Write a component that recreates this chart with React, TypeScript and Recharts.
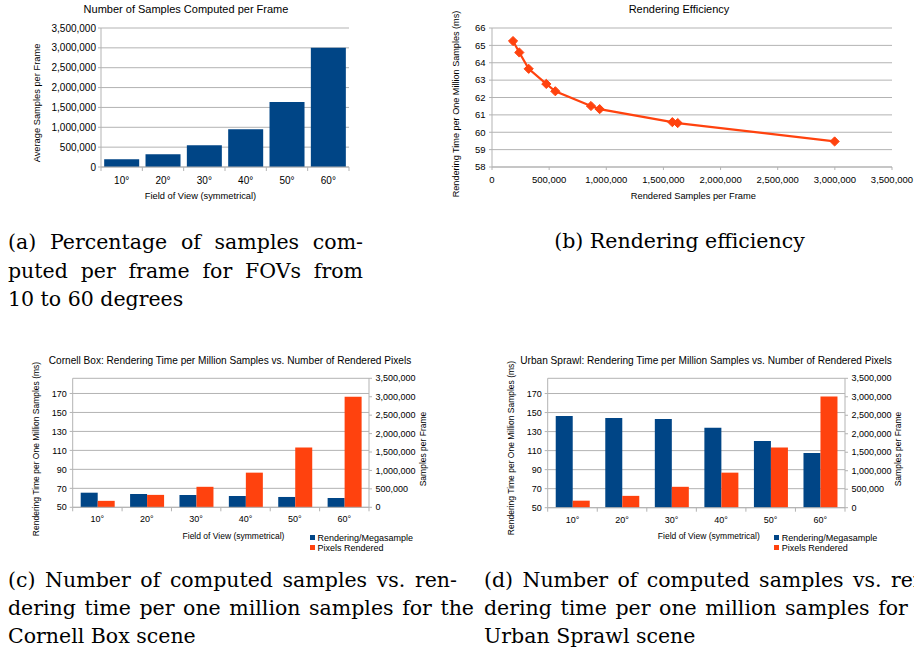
import React from 'react';
import {
  BarChart, Bar, LineChart, Line, XAxis, YAxis, CartesianGrid, Legend, ReferenceArea,
} from 'recharts';

// ---------- data ----------
const fovLabels = ['10°', '20°', '30°', '40°', '50°', '60°'];
const samplesPerFrame = [192000, 320000, 548000, 950000, 1635000, 3000000];

const effSamples = [184000, 239000, 321000, 475000, 554000, 866000, 942000, 1578000, 1625000, 2998000];
const effTime = [65.25, 64.59, 63.65, 62.78, 62.36, 61.51, 61.33, 60.58, 60.53, 59.47];

const cornellTime = [65.4, 64.0, 63.0, 61.9, 60.9, 59.8];
const cornellPixels = [175000, 337000, 556000, 940000, 1622000, 3000000];

const urbanTime = [146.5, 144.4, 143.3, 133.9, 120.2, 107.5];
const urbanPixels = [190000, 320000, 565000, 948000, 1631000, 3005000];

const sampleTicks = [0, 500000, 1000000, 1500000, 2000000, 2500000, 3000000, 3500000];
const effTimeTicks = [58, 59, 60, 61, 62, 63, 64, 65, 66];
const timeTicks = [50, 70, 90, 110, 130, 150, 170];
const legendOrder = ['time', 'pixels'];

// ---------- styles ----------
const AXIS = '#b3b3b3';
const BLUE = '#004586';
const ORANGE = '#ff420e';
const SANS = '"Liberation Sans", Arial, sans-serif';
const SERIF = '"DejaVu Serif", "Liberation Serif", serif';
const CAP_FS = 20.5;
const fmt = (v: number) => v.toLocaleString('en-US');

const dataA = fovLabels.map((fov, i) => ({ fov, samples: samplesPerFrame[i] }));
const dataB = effSamples.map((x, i) => ({ x, t: effTime[i] }));
const dataC = fovLabels.map((fov, i) => ({ fov, time: cornellTime[i], pixels: cornellPixels[i] }));
const dataD = fovLabels.map((fov, i) => ({ fov, time: urbanTime[i], pixels: urbanPixels[i] }));

// layout
const A = { w: 360, h: 210, top: 28, right: 11, yW: 101, xH: 43 };
const B = { w: 474, h: 210, top: 28, right: 22, yW: 52, xH: 43 };
const C = { w: 460, h: 215, top: 33.3, yW: 72.7, yRW: 91, xH: 52.7 };
const D = { w: 459, h: 215, top: 33.3, yW: 92.7, yRW: 69, xH: 52.3 };
const bwA = (A.w - A.right - A.yW) / fovLabels.length;
const bwC = (C.w - C.yW - C.yRW) / fovLabels.length;
const bwD = (D.w - D.yW - D.yRW) / fovLabels.length;

const CatTick = (props: any) => {
  const { x, y, payload, index, bw, fs, dy, n } = props;
  const l = x - bw / 2;
  const r = x + bw / 2;
  return (
    <g>
      <line x1={l} y1={y} x2={l} y2={y + 4} stroke={AXIS} />
      {index === n - 1 && <line x1={r} y1={y} x2={r} y2={y + 4} stroke={AXIS} />}
      <text x={x} y={y + dy} textAnchor="middle" fontSize={fs} fontFamily={SANS} fill="#000">
        {payload.value}
      </text>
    </g>
  );
};

const Diamond = (props: any) => {
  const { cx, cy, index } = props;
  const s = 4.6;
  return (
    <path
      key={`d${index}`}
      d={`M${cx},${cy - s} L${cx + s},${cy} L${cx},${cy + s} L${cx - s},${cy} Z`}
      fill={ORANGE}
      stroke={ORANGE}
      strokeWidth={1}
    />
  );
};

const LegendBox = (props: any) => {
  const items = (props.payload || []).slice().sort(
    (a: any, b: any) => legendOrder.indexOf(a.dataKey) - legendOrder.indexOf(b.dataKey),
  );
  return (
    <div style={{ fontFamily: SANS, fontSize: 9, color: '#000', lineHeight: '10.3px' }}>
      {items.map((e: any) => (
        <div key={e.value} style={{ display: 'flex', alignItems: 'center', height: 10.3, whiteSpace: 'nowrap' }}>
          <span style={{ width: 5, height: 5, background: e.color, marginRight: 2.5, display: 'inline-block' }} />
          <span>{e.value}</span>
        </div>
      ))}
    </div>
  );
};

const Txt = ({ x, y, size, rotate, children, family }: any) => (
  <div
    style={{
      position: 'absolute', left: x, top: y, whiteSpace: 'nowrap', fontFamily: family || SANS,
      fontSize: size, lineHeight: 1, color: '#000',
      transform: `translate(-50%, -50%)${rotate ? ' rotate(-90deg)' : ''}`,
    }}
  >
    {children}
  </div>
);

const CapLine = ({ x, y, w, justify, children }: any) => (
  <div
    style={{
      position: 'absolute', left: x, top: y - 14, width: w, height: 28, lineHeight: '28px',
      fontFamily: SERIF, fontSize: CAP_FS, color: '#000', whiteSpace: 'nowrap',
      textAlign: justify ? 'justify' : 'left', textAlignLast: justify ? 'justify' : 'left',
    }}
  >
    {children}
  </div>
);

const tickStyle = (fs: number) => ({ fontSize: fs, fill: '#000', fontFamily: SANS });

const DualChart = ({ data, L, bw, legendLeft }: any) => (
  <BarChart
    width={L.w}
    height={L.h}
    data={data}
    margin={{ top: L.top, right: 0, left: 0, bottom: 0 }}
    barCategoryGap="16.2%"
    barGap={0}
  >
    <CartesianGrid vertical={false} stroke={AXIS} yAxisId="left" />
    <ReferenceArea yAxisId="left" fill="none" stroke={AXIS} />
    <XAxis
      dataKey="fov"
      height={L.xH}
      interval={0}
      axisLine={{ stroke: AXIS }}
      tickLine={false}
      tickSize={0}
      tickMargin={0}
      tick={(p: any) => <CatTick {...p} bw={bw} fs={9} dy={15} n={fovLabels.length} />}
    />
    <YAxis
      yAxisId="left"
      width={L.yW}
      domain={[50, 186]}
      ticks={timeTicks}
      interval={0}
      axisLine={{ stroke: AXIS }}
      tickLine={{ stroke: AXIS }}
      tickSize={3}
      tickMargin={3}
      tick={tickStyle(9)}
    />
    <YAxis
      yAxisId="right"
      orientation="right"
      width={L.yRW}
      domain={[0, 3500000]}
      ticks={sampleTicks}
      interval={0}
      tickFormatter={fmt}
      axisLine={{ stroke: AXIS }}
      tickLine={{ stroke: AXIS }}
      tickSize={3}
      tickMargin={3.5}
      tick={tickStyle(9)}
    />
    <Bar yAxisId="left" dataKey="time" name="Rendering/Megasample" fill={BLUE} isAnimationActive={false} />
    <Bar yAxisId="right" dataKey="pixels" name="Pixels Rendered" fill={ORANGE} isAnimationActive={false} />
    <Legend
      layout="vertical"
      align="center"
      verticalAlign="middle"
      content={<LegendBox />}
      wrapperStyle={{ left: legendLeft, top: 187.5, width: 140, height: 22 }}
    />
  </BarChart>
);

export default function App() {
  return (
    <div
      style={{
        position: 'fixed', left: 0, top: 0, width: 914, height: 652, overflow: 'hidden', background: '#fff',
      }}
    >
      {/* (a) */}
      <div style={{ position: 'absolute', left: 0, top: 0 }}>
        <BarChart
          width={A.w}
          height={A.h}
          data={dataA}
          margin={{ top: A.top, right: A.right, left: 0, bottom: 0 }}
          barCategoryGap="7.7%"
        >
          <CartesianGrid vertical={false} stroke={AXIS} />
          <ReferenceArea fill="none" stroke={AXIS} />
          <XAxis
            dataKey="fov"
            height={A.xH}
            interval={0}
            axisLine={{ stroke: AXIS }}
            tickLine={false}
            tickSize={0}
            tickMargin={0}
            tick={(p: any) => <CatTick {...p} bw={bwA} fs={10} dy={16.5} n={fovLabels.length} />}
          />
          <YAxis
            width={A.yW}
            domain={[0, 3500000]}
            ticks={sampleTicks}
            interval={0}
            tickFormatter={fmt}
            axisLine={{ stroke: AXIS }}
            tickLine={{ stroke: AXIS }}
            tickSize={3}
            tickMargin={2}
            tick={tickStyle(10)}
          />
          <Bar dataKey="samples" fill={BLUE} isAnimationActive={false} />
        </BarChart>
      </div>
      <Txt x={186} y={9} size={11}>Number of Samples Computed per Frame</Txt>
      <Txt x={38} y={103} size={9.3} rotate>Average Samples per Frame</Txt>
      <Txt x={200.5} y={197} size={9.3}>Field of View (symmetrical)</Txt>

      {/* (b) */}
      <div style={{ position: 'absolute', left: 440, top: 0 }}>
        <LineChart
          width={B.w}
          height={B.h}
          data={dataB}
          margin={{ top: B.top, right: B.right, left: 0, bottom: 0 }}
        >
          <CartesianGrid vertical={false} stroke={AXIS} />
          <ReferenceArea fill="none" stroke={AXIS} />
          <XAxis
            type="number"
            dataKey="x"
            domain={[0, 3500000]}
            ticks={sampleTicks}
            interval={0}
            tickFormatter={fmt}
            height={B.xH}
            axisLine={{ stroke: AXIS }}
            tickLine={{ stroke: AXIS }}
            tickSize={3}
            tickMargin={6}
            tick={tickStyle(9.5)}
          />
          <YAxis
            width={B.yW}
            domain={[58, 66]}
            ticks={effTimeTicks}
            interval={0}
            axisLine={{ stroke: AXIS }}
            tickLine={{ stroke: AXIS }}
            tickSize={3}
            tickMargin={3.5}
            tick={tickStyle(9.5)}
          />
          <Line
            dataKey="t"
            stroke={ORANGE}
            strokeWidth={2.2}
            dot={Diamond}
            activeDot={false}
            isAnimationActive={false}
          />
        </LineChart>
      </div>
      <Txt x={679} y={9} size={11}>Rendering Efficiency</Txt>
      <Txt x={456.7} y={103.5} size={9.1} rotate>Rendering Time per One Million Samples (ms)</Txt>
      <Txt x={693.3} y={197.3} size={9.3}>Rendered Samples per Frame</Txt>

      {/* (c) */}
      <div style={{ position: 'absolute', left: 0, top: 345 }}>
        <DualChart data={dataC} L={C} bw={bwC} legendLeft={310} />
      </div>
      <Txt x={230} y={360.7} size={10.1}>Cornell Box: Rendering Time per Million Samples vs. Number of Rendered Pixels</Txt>
      <Txt x={35.7} y={449} size={8.5} rotate>Rendering Time per One Million Samples (ms)</Txt>
      <Txt x={423.3} y={449} size={8.5} rotate>Samples per Frame</Txt>
      <Txt x={233.5} y={536} size={8.5}>Field of View (symmetrical)</Txt>

      {/* (d) */}
      <div style={{ position: 'absolute', left: 455, top: 345 }}>
        <DualChart data={dataD} L={D} bw={bwD} legendLeft={319.3} />
      </div>
      <Txt x={706} y={360.7} size={10.1}>Urban Sprawl: Rendering Time per Million Samples vs. Number of Rendered Pixels</Txt>
      <Txt x={511} y={447.5} size={8.5} rotate>Rendering Time per One Million Samples (ms)</Txt>
      <Txt x={897.7} y={449} size={8.5} rotate>Samples per Frame</Txt>
      <Txt x={708.8} y={536} size={8.5}>Field of View (symmetrical)</Txt>

      {/* captions */}
      <CapLine x={8} y={242} w={355} justify>(a) Percentage of samples com-</CapLine>
      <CapLine x={8} y={271} w={355} justify>puted per frame for FOVs from</CapLine>
      <CapLine x={8} y={299}>10 to 60 degrees</CapLine>
      <Txt x={679.5} y={241} size={CAP_FS} family={SERIF}>(b) Rendering efficiency</Txt>

      <CapLine x={8} y={580} w={449} justify>(c) Number of computed samples vs. ren-</CapLine>
      <CapLine x={8} y={608} w={466} justify>dering time per one million samples for the</CapLine>
      <CapLine x={8} y={636}>Cornell Box scene</CapLine>

      <CapLine x={484} y={580} w={449} justify>(d) Number of computed samples vs. ren-</CapLine>
      <CapLine x={484} y={608} w={466} justify>dering time per one million samples for the</CapLine>
      <CapLine x={484} y={636}>Urban Sprawl scene</CapLine>
    </div>
  );
}
